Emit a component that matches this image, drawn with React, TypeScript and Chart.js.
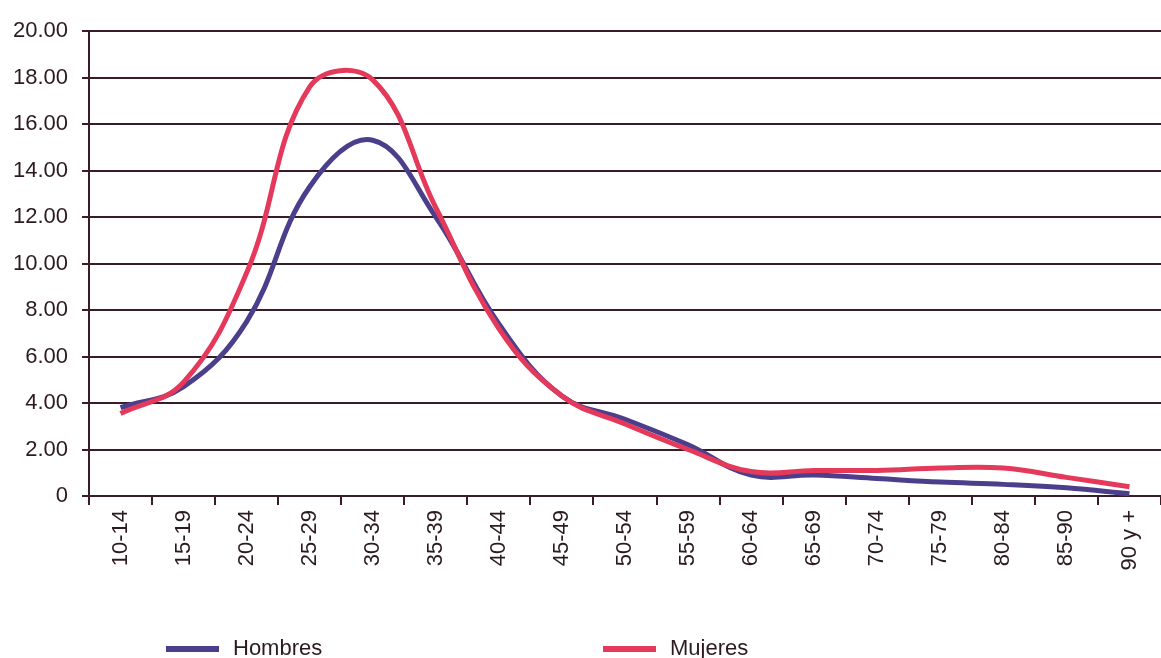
import React, { useEffect, useRef } from "react";
import { Chart, registerables } from "chart.js";

Chart.register(...registerables);

const categories = ["10-14", "15-19", "20-24", "25-29", "30-34", "35-39", "40-44", "45-49", "50-54", "55-59", "60-64", "65-69", "70-74", "75-79", "80-84", "85-90", "90 y +"];
const hombres = [3.8, 4.7, 7.5, 13.3, 15.3, 12.0, 7.4, 4.3, 3.3, 2.2, 0.9, 0.9, 0.75, 0.6, 0.5, 0.35, 0.1];
const mujeres = [3.55, 4.9, 9.6, 17.6, 17.9, 12.4, 7.2, 4.3, 3.1, 2.0, 1.05, 1.1, 1.1, 1.2, 1.2, 0.8, 0.4];
const yTicks = [0, 2, 4, 6, 8, 10, 12, 14, 16, 18, 20];

const DARK = "#2b1a1f";
const GRID = "#3a1c26";
const C_H = "#4b3f8c";
const C_M = "#e5395c";
const FONT = "'Liberation Sans', Arial, sans-serif";

const legendPlugin = {
  id: "customLegend",
  afterDraw(chart: any) {
    const ctx = chart.ctx;
    const items = [
      { idx: 0, x: 166 },
      { idx: 1, x: 603 },
    ];
    ctx.save();
    ctx.font = `22px ${FONT}`;
    ctx.textBaseline = "middle";
    ctx.textAlign = "left";
    items.forEach((it) => {
      const ds = chart.data.datasets[it.idx];
      ctx.fillStyle = ds.borderColor;
      ctx.fillRect(it.x, 646, 53, 6);
      ctx.fillStyle = DARK;
      ctx.fillText(ds.label, it.x + 67, 649);
    });
    ctx.restore();
  },
};

export default function App() {
  const ref = useRef<HTMLCanvasElement>(null);
  useEffect(() => {
    document.body.style.margin = "0";
    const chart = new Chart(ref.current!, {
      type: "line",
      data: {
        labels: categories,
        datasets: [
          {
            label: "Hombres",
            data: hombres,
            borderColor: C_H,
            backgroundColor: C_H,
            borderWidth: 5,
            pointRadius: 0,
            tension: 0.4,
            order: 2,
          },
          {
            label: "Mujeres",
            data: mujeres,
            borderColor: C_M,
            backgroundColor: C_M,
            borderWidth: 5,
            pointRadius: 0,
            tension: 0.4,
            order: 1,
          },
        ],
      },
      options: {
        responsive: false,
        animation: false,
        layout: { padding: { top: 31, left: 0, right: 0, bottom: 0 } },
        plugins: {
          legend: { display: false },
          tooltip: { enabled: false },
        },
        scales: {
          x: {
            offset: true,
            grid: {
              offset: true,
              drawOnChartArea: false,
              drawTicks: true,
              tickLength: 9,
              color: GRID,
              lineWidth: 2,
            },
            border: { display: false },
            ticks: {
              minRotation: 90,
              maxRotation: 90,
              padding: 5,
              color: DARK,
              font: { family: FONT, size: 22 },
            },
            afterFit: (s: any) => {
              s.height = 162;
            },
          },
          y: {
            min: 0,
            max: 20,
            afterBuildTicks: (s: any) => {
              s.ticks = yTicks.map((v) => ({ value: v }));
            },
            grid: {
              color: GRID,
              lineWidth: 2,
              tickLength: 7,
            },
            border: { display: true, color: GRID, width: 2 },
            ticks: {
              padding: 14,
              color: DARK,
              font: { family: FONT, size: 22 },
              callback: (v: any) => (Number(v) === 0 ? "0" : Number(v).toFixed(2)),
            },
            afterFit: (s: any) => {
              s.width = 89;
            },
          },
        },
      },
      plugins: [legendPlugin],
    });
    return () => chart.destroy();
  }, []);
  return (
    <div style={{ width: 1161, height: 658, background: "#fff" }}>
      <canvas ref={ref} width={1161} height={658} />
    </div>
  );
}
